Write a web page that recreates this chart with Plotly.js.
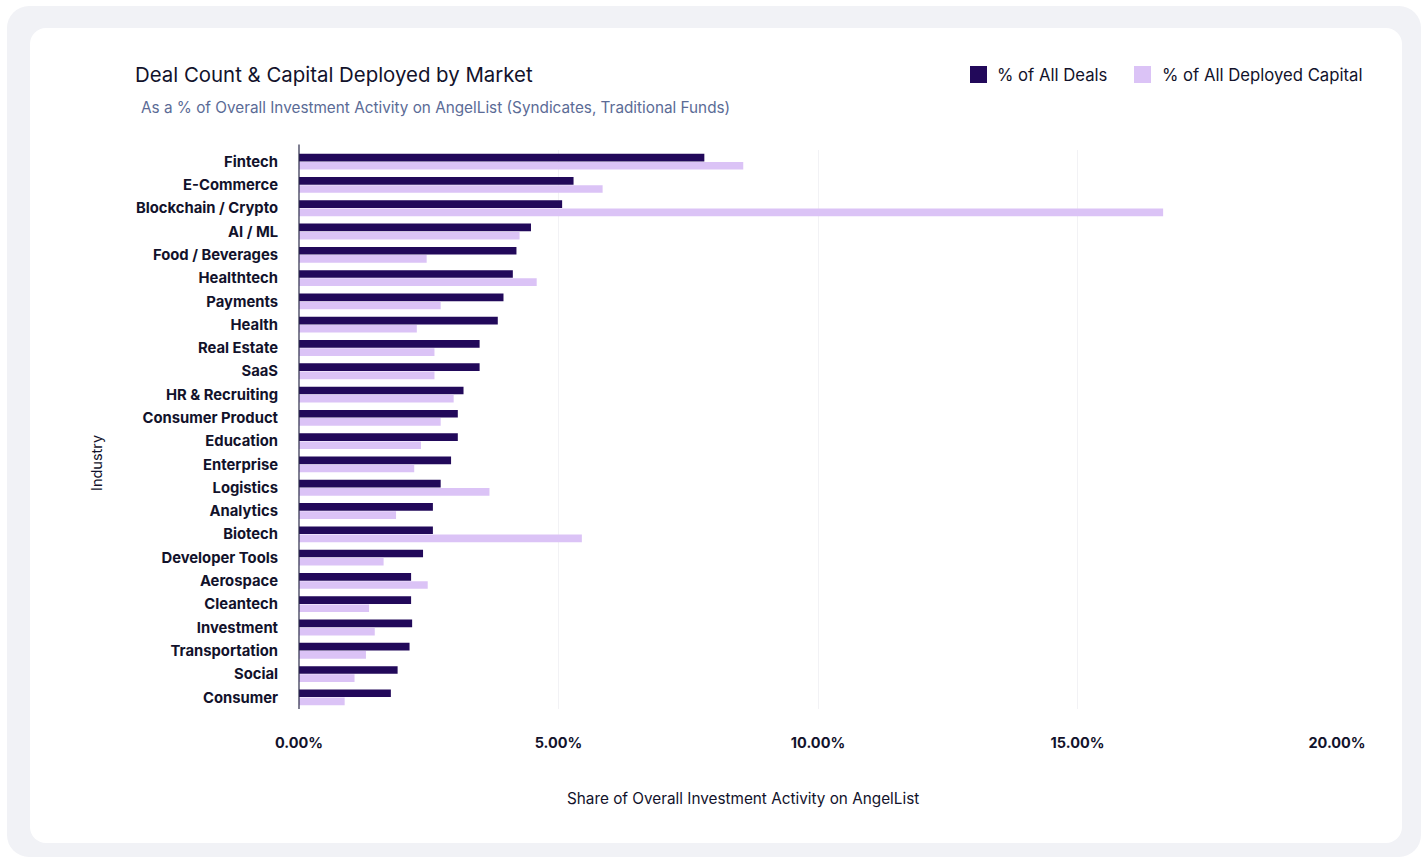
<!DOCTYPE html>
<html>
<head>
<meta charset="utf-8">
<script src="https://cdn.plot.ly/plotly-3.0.1.min.js"></script>
<style>
  html, body { margin:0; padding:0; background:#ffffff; width:1428px; height:859px; overflow:hidden; }
  #outer { position:absolute; left:7px; top:6px; width:1414px; height:851px; background:#f1f2f6; border-radius:22px; }
  #card { position:absolute; left:30px; top:28px; width:1372px; height:815px; background:#ffffff; border-radius:16px; }
  #chart { position:absolute; left:0; top:0; width:1428px; height:859px; }
</style>
</head>
<body>
<div id="outer"></div>
<div id="card"></div>
<div id="chart"></div>
<script>
const industries = ["Fintech","E-Commerce","Blockchain / Crypto","AI / ML","Food / Beverages","Healthtech","Payments","Health","Real Estate","SaaS","HR & Recruiting","Consumer Product","Education","Enterprise","Logistics","Analytics","Biotech","Developer Tools","Aerospace","Cleantech","Investment","Transportation","Social","Consumer"];
const dealsPct = [7.81,5.29,5.07,4.47,4.19,4.12,3.94,3.83,3.48,3.48,3.17,3.06,3.06,2.93,2.73,2.58,2.58,2.39,2.16,2.16,2.18,2.13,1.90,1.77];
const capitalPct = [8.56,5.85,16.65,4.25,2.46,4.58,2.73,2.27,2.61,2.61,2.98,2.73,2.35,2.22,3.67,1.87,5.45,1.63,2.48,1.35,1.46,1.29,1.07,0.88];
const seriesNames = ["% of All Deals","% of All Deployed Capital"];
const xTickVals = [0,5,10,15,20];
const xTickText = ["0.00%","5.00%","10.00%","15.00%","20.00%"];
const chartTitle = "Deal Count & Capital Deployed by Market";
const chartSubtitle = "As a % of Overall Investment Activity on AngelList (Syndicates, Traditional Funds)";
const xTitle = "Share of Overall Investment Activity on AngelList";
const yTitle = "Industry";

const W = 1428, H = 859;
const PL = 299, PR = 1337, PT = 150, PB = 709;
const px2x = p => (p - PL) / (PR - PL);
const px2y = p => (PB - p) / (PB - PT);

const darkColor = "#22095a";
const lightColor = "#dbc3f6";
const textDark = "#12122b";
const font = "Inter, 'Noto Sans', sans-serif";

const traces = [
  { type:"bar", orientation:"h", name:seriesNames[0], y:industries, x:dealsPct, marker:{color:darkColor}, hoverinfo:"x+y" },
  { type:"bar", orientation:"h", name:seriesNames[1], y:industries, x:capitalPct, marker:{color:lightColor}, hoverinfo:"x+y" }
];

const legendItems = [
  { name: seriesNames[0], color: darkColor, sq: 970, tx: 997 },
  { name: seriesNames[1], color: lightColor, sq: 1134, tx: 1162 }
];

const shapes = [];
const annotations = [
  { text: chartSubtitle, xref:"paper", yref:"paper", x: px2x(139), y: px2y(108), xanchor:"left", yanchor:"middle", showarrow:false, font:{family:font, size:15.3, color:"#5b6b96"} },
  { text: xTitle, xref:"paper", yref:"paper", x: px2x(743), y: px2y(798), xanchor:"center", yanchor:"middle", showarrow:false, font:{family:font, size:15.3, color:textDark} },
  { text: yTitle, xref:"paper", yref:"paper", x: px2x(96), y: px2y(463), xanchor:"center", yanchor:"middle", textangle:-90, showarrow:false, font:{family:font, size:14.5, color:textDark} }
];
legendItems.forEach(it => {
  shapes.push({ type:"rect", xref:"paper", yref:"paper", x0: px2x(it.sq), x1: px2x(it.sq+17), y0: px2y(83), y1: px2y(66), fillcolor: it.color, line:{width:0} });
  annotations.push({ text: it.name, xref:"paper", yref:"paper", x: px2x(it.tx - 2), y: px2y(75), xanchor:"left", yanchor:"middle", showarrow:false, font:{family:font, size:16.7, color:textDark} });
});
shapes.push({ type:"line", xref:"paper", yref:"paper", x0:0, x1:0, y0:0, y1:1.01, line:{color:"#2a2a48", width:1.2} });

const layout = {
  width: W, height: H,
  paper_bgcolor: "rgba(0,0,0,0)", plot_bgcolor: "rgba(0,0,0,0)",
  margin: { l: PL, r: W - PR, t: PT, b: H - PB, pad: 0 },
  barmode: "group", bargap: 0.3, bargroupgap: 0.06,
  showlegend: false,
  title: { text: chartTitle, xref:"container", yref:"container", x: 135/W, xanchor:"left", y: 1 - 75/H, yanchor:"middle", font:{family:font, size:20.4, color:textDark} },
  xaxis: {
    range: [0, 20], tickvals: xTickVals, ticktext: xTickText,
    showgrid: true, gridcolor: "#f2f2f5", gridwidth: 1, zeroline: false, showline: false,
    ticks: "outside", ticklen: 21, tickcolor: "rgba(0,0,0,0)",
    tickfont: { family: font, size: 14.5, color: textDark, weight: 700 }, fixedrange: true
  },
  yaxis: {
    autorange: "reversed", type: "category",
    showgrid: false, zeroline: false, showline: false,
    ticks: "outside", ticklen: 17, tickcolor: "rgba(0,0,0,0)",
    tickfont: { family: font, size: 14.8, color: textDark, weight: 700 }, fixedrange: true
  },
  shapes: shapes, annotations: annotations
};

Plotly.newPlot("chart", traces, layout, { displayModeBar: false });
</script>
</body>
</html>
